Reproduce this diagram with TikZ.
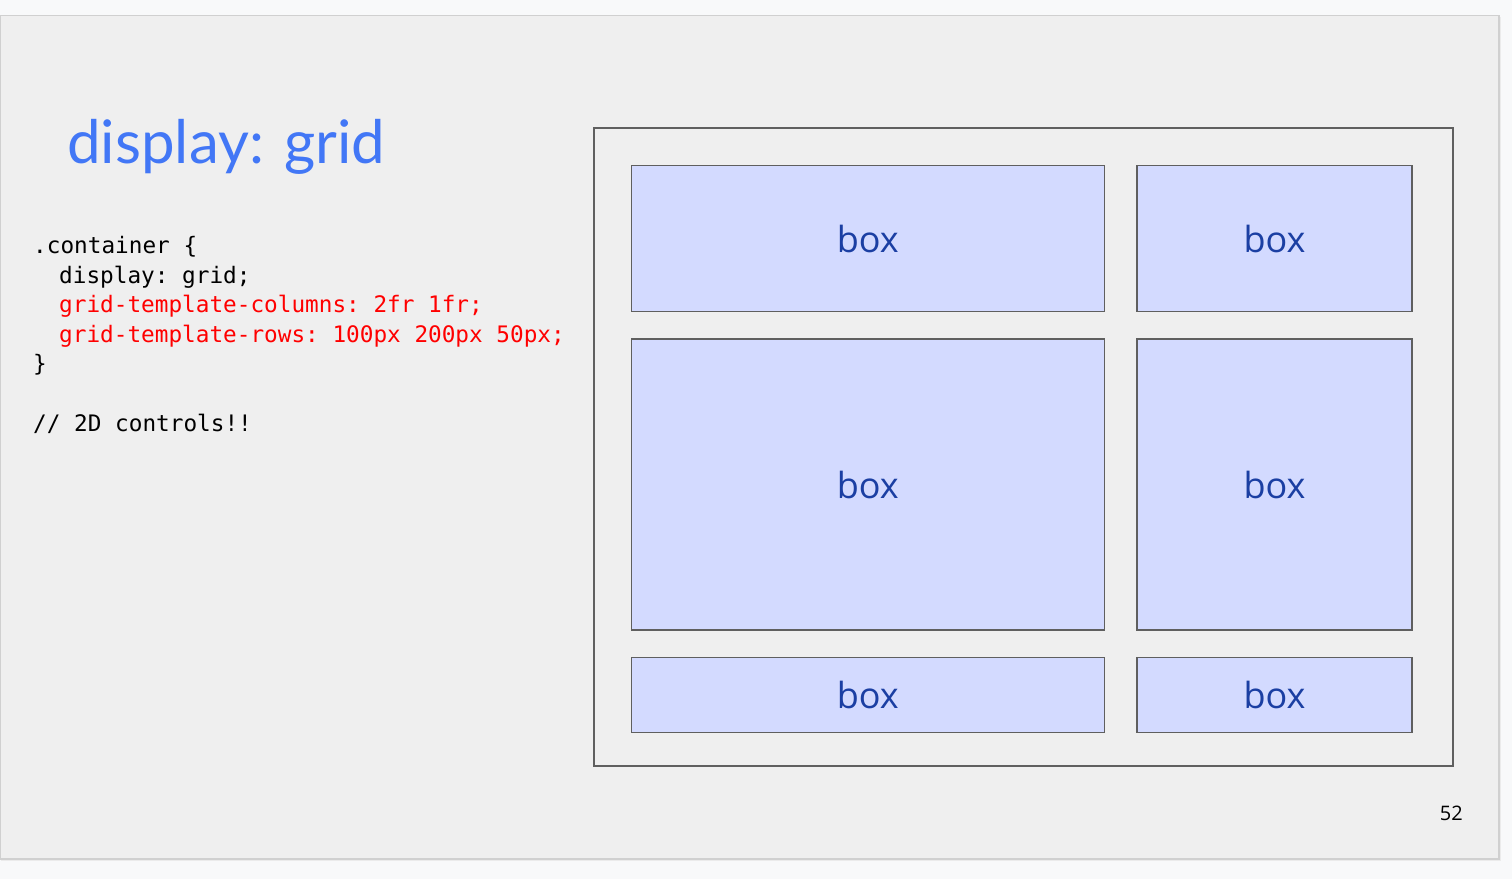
\documentclass[tikz,border=0pt]{standalone}
\usepackage{fontspec}
\setmainfont{Open Sans}
\newfontfamily\titlefont{Lato}
\setmonofont{DejaVu Sans Mono}
\definecolor{pagebg}{HTML}{F8F9FA}
\definecolor{slidebg}{HTML}{EFEFEF}
\definecolor{slideedge}{HTML}{D0D0D0}
\definecolor{boxfill}{HTML}{D3DAFF}
\definecolor{boxedge}{HTML}{5F5F5F}
\definecolor{boxtext}{HTML}{1B3FA3}
\definecolor{titleblue}{HTML}{4277F6}
\definecolor{codered}{HTML}{FF0000}
\tikzset{
  gbox/.style={draw=boxedge, fill=boxfill, line width=1.3pt, inner sep=0pt,
    text=boxtext, font=\fontsize{36}{40}\selectfont},
  codeline/.style={anchor=base west, inner sep=0pt, font=\ttfamily\fontsize{22.7}{26}\selectfont},
}
\begin{document}
\begin{tikzpicture}[x=1pt,y=-1pt]
\useasboundingbox (0,0) rectangle (1512,879);
\fill[pagebg] (0,0) rectangle (1512,879);
\fill[black!8] (1,17) rectangle (1501,861);
\draw[slideedge, fill=slidebg, line width=1.2pt] (0.6,15.6) rectangle (1499,859);
\node[anchor=base west, inner sep=0pt, text=titleblue, font=\titlefont\fontsize{60}{68}\selectfont] (title) at (67,163) {display: grid};
\node[codeline] (c1) at (33,253) {.container \{};
\node[codeline] (c2) at (59,283) {display: grid;};
\node[codeline, text=codered] (c3) at (59,312) {grid-template-columns: 2fr 1fr;};
\node[codeline, text=codered] (c4) at (59,342) {grid-template-rows: 100px 200px 50px;};
\node[codeline] (c5) at (33,371) {\}};
\node[codeline] (c6) at (33,431) {// 2D controls!!};
\node[draw=boxedge, line width=1.3pt, minimum width=859pt, minimum height=638pt, inner sep=0pt] (cont) at (1023.5,447) {};
\node[gbox, minimum width=473pt, minimum height=146pt] (b1) at (867.8,238.5) {box};
\node[gbox, minimum width=275pt, minimum height=146pt] (b2) at (1274.5,238.5) {box};
\node[gbox, minimum width=473pt, minimum height=291pt] (b3) at (867.8,484.5) {box};
\node[gbox, minimum width=275pt, minimum height=291pt] (b4) at (1274.5,484.5) {box};
\node[gbox, minimum width=473pt, minimum height=75pt] (b5) at (867.8,695) {box};
\node[gbox, minimum width=275pt, minimum height=75pt] (b6) at (1274.5,695) {box};
\node[anchor=base east, inner sep=0pt, font=\fontsize{20}{23}\selectfont] (pg) at (1463,820) {52};
\end{tikzpicture}
\end{document}
